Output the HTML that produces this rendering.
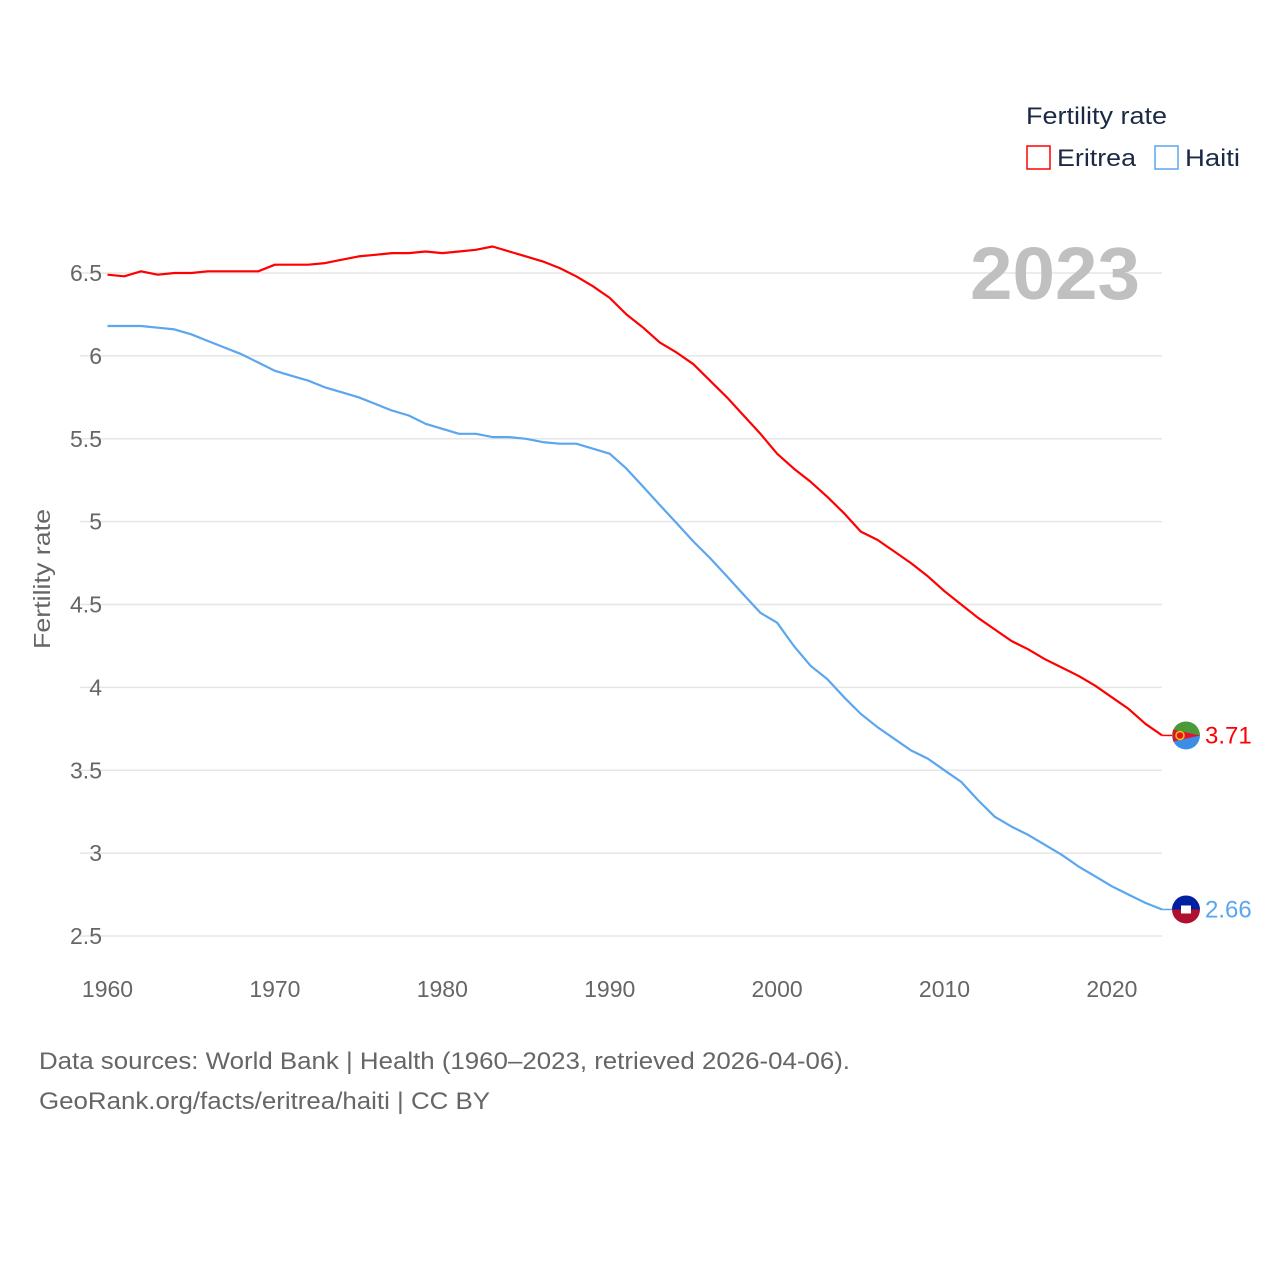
<!DOCTYPE html>
<html><head><meta charset="utf-8"><style>
body{margin:0;background:#fff;font-family:"Liberation Sans",sans-serif}
svg text{font-family:"Liberation Sans",sans-serif}
</style></head><body>
<svg id="chart" width="1280" height="1280" viewBox="0 0 1280 1280" xmlns="http://www.w3.org/2000/svg">
<rect width="1280" height="1280" fill="#fff"/>
<g id="grid"></g>
<g id="yticks"></g>
<g id="xticks"></g>
<text x="1140" y="299" text-anchor="end" font-size="74" font-weight="bold" fill="#c0c0c0" textLength="170" lengthAdjust="spacingAndGlyphs">2023</text>
<text transform="translate(50,579) rotate(-90)" text-anchor="middle" font-size="23" fill="#666" textLength="140" lengthAdjust="spacingAndGlyphs">Fertility rate</text>
<g id="series"></g>
<g>
<text x="1026" y="124" font-size="24" fill="#1a2a44" textLength="141" lengthAdjust="spacingAndGlyphs">Fertility rate</text>
<rect x="1027" y="146" width="23" height="23" fill="none" stroke="#ff0000" stroke-width="1.5"/>
<text x="1057" y="166" font-size="24" fill="#1a2a44" textLength="79" lengthAdjust="spacingAndGlyphs">Eritrea</text>
<rect x="1155" y="146" width="23" height="23" fill="none" stroke="#5aa6ef" stroke-width="1.5"/>
<text x="1185" y="166" font-size="24" fill="#1a2a44" textLength="55" lengthAdjust="spacingAndGlyphs">Haiti</text>
</g>
<text x="39" y="1069" font-size="24" fill="#666" textLength="811" lengthAdjust="spacingAndGlyphs">Data sources: World Bank | Health (1960–2023, retrieved 2026-04-06).</text>
<text x="39" y="1109" font-size="24" fill="#666" textLength="451" lengthAdjust="spacingAndGlyphs">GeoRank.org/facts/eritrea/haiti | CC BY</text>
</svg>
<script>
const years=[];for(let y=1960;y<=2023;y++)years.push(y);
const eritrea=[6.49,6.48,6.51,6.49,6.50,6.50,6.51,6.51,6.51,6.51,6.55,6.55,6.55,6.56,6.58,6.60,6.61,6.62,6.62,6.63,6.62,6.63,6.64,6.66,6.63,6.60,6.57,6.53,6.48,6.42,6.35,6.25,6.17,6.08,6.02,5.95,5.85,5.75,5.64,5.53,5.41,5.32,5.24,5.15,5.05,4.94,4.89,4.82,4.75,4.67,4.58,4.50,4.42,4.35,4.28,4.23,4.17,4.12,4.07,4.01,3.94,3.87,3.78,3.71];
const haiti=[6.18,6.18,6.18,6.17,6.16,6.13,6.09,6.05,6.01,5.96,5.91,5.88,5.85,5.81,5.78,5.75,5.71,5.67,5.64,5.59,5.56,5.53,5.53,5.51,5.51,5.50,5.48,5.47,5.47,5.44,5.41,5.32,5.21,5.10,4.99,4.88,4.78,4.67,4.56,4.45,4.39,4.25,4.13,4.05,3.94,3.84,3.76,3.69,3.62,3.57,3.50,3.43,3.32,3.22,3.16,3.11,3.05,2.99,2.92,2.86,2.80,2.75,2.70,2.66];
const yTicks=[2.5,3,3.5,4,4.5,5,5.5,6,6.5];
const yTickLabels=["2.5","3","3.5","4","4.5","5","5.5","6","6.5"];
const xTicks=[1960,1970,1980,1990,2000,2010,2020];
const NS="http://www.w3.org/2000/svg";
function X(yr){return 107.5+(yr-1960)*16.74;}
function Y(v){return 936-(v-2.5)*165.75;}
function mk(tag,attrs,parent){const e=document.createElementNS(NS,tag);for(const k in attrs)e.setAttribute(k,attrs[k]);parent.appendChild(e);return e;}
const grid=document.getElementById('grid'),yt=document.getElementById('yticks'),xt=document.getElementById('xticks'),ser=document.getElementById('series');
yTicks.forEach((v,i)=>{
 const l=mk('line',{x1:80,x2:1162,y1:Y(v),y2:Y(v),stroke:'#e6e6e6','stroke-width':1.5},grid);
 
 
 const t=mk('text',{x:102,y:Y(v)+8,'text-anchor':'end','font-size':23,fill:'#666'},yt);
 t.textContent=yTickLabels[i];
 
 
});
xTicks.forEach(yr=>{
 const t=mk('text',{x:X(yr),y:997,'text-anchor':'middle','font-size':23,fill:'#666'},xt);
 t.textContent=yr;
 
 
});
function line(data,color,name){
 const d=data.map((v,i)=>(i?'L':'M')+X(years[i]).toFixed(1)+' '+Y(v).toFixed(1)).join(' ');
 const p=mk('path',{d:d,fill:'none',stroke:color,'stroke-width':2.2,'stroke-linejoin':'round'},ser);
 
 
 const last=data[data.length-1],ly=Y(last),lx=X(years[years.length-1]);
 mk('line',{x1:lx,x2:1172,y1:ly,y2:ly,stroke:color,'stroke-width':1.5},ser);
 const g=mk('g',{},ser);
 
 
 const cx=1186,cy=ly;
 if(name==='eritrea'){
  mk('path',{d:`M${cx-14} ${cy} A14 14 0 0 1 ${cx+14} ${cy} Z`,fill:'#4a9a3c'},g);
  mk('path',{d:`M${cx-14} ${cy} A14 14 0 0 0 ${cx+14} ${cy} Z`,fill:'#3a8ee6'},g);
  mk('path',{d:`M${cx-13} ${cy-6} L${cx+14} ${cy} L${cx-13} ${cy+6} Z`,fill:'#e8112d'},g);
  mk('circle',{cx:cx-6,cy:cy,r:4,fill:'none',stroke:'#f5c400','stroke-width':1.5},g);
 } else {
  mk('path',{d:`M${cx-14} ${cy} A14 14 0 0 1 ${cx+14} ${cy} Z`,fill:'#00209f'},g);
  mk('path',{d:`M${cx-14} ${cy} A14 14 0 0 0 ${cx+14} ${cy} Z`,fill:'#b01030'},g);
  mk('rect',{x:cx-5,y:cy-4,width:10,height:8,fill:'#fff'},g);
 }
 const t=mk('text',{x:1205,y:ly+8,'font-size':24,fill:color},ser);
 t.textContent=last.toFixed(2);
 
 
}
line(haiti,'#5aa6ef','haiti');
line(eritrea,'#ff0000','eritrea');
</script>
</body></html>
